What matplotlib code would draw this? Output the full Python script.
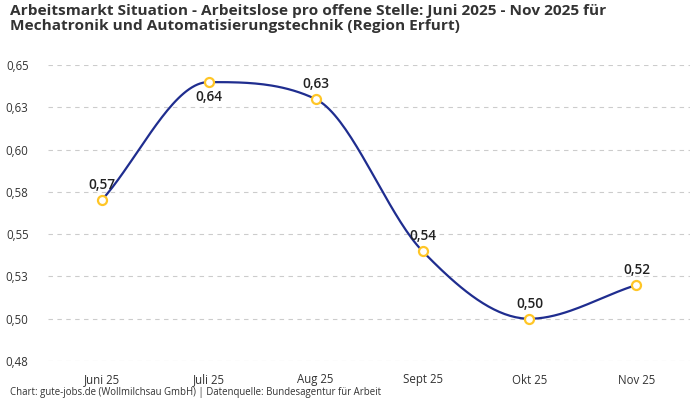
import numpy as np
import matplotlib
matplotlib.use("Agg")
import matplotlib.pyplot as plt
from matplotlib.ticker import FixedLocator, FuncFormatter

plt.rcParams['font.family'] = ['Open Sans', 'DejaVu Sans']

months = ["Juni 25", "Juli 25", "Aug 25", "Sept 25", "Okt 25", "Nov 25"]
values = [0.570, 0.640, 0.630, 0.540, 0.500, 0.520]
label_below = [False, True, False, False, False, False]
yticks = [0.475, 0.50, 0.525, 0.55, 0.575, 0.60, 0.625, 0.65]

title = ("Arbeitsmarkt Situation - Arbeitslose pro offene Stelle: Juni 2025 - Nov 2025 für\n"
         "Mechatronik und Automatisierungstechnik (Region Erfurt)")
source = "Chart: gute-jobs.de (Wollmilchsau GmbH) | Datenquelle: Bundesagentur für Arbeit"

LINE = "#1f2d8f"
DOT = "#ffc627"


def monotone_curve(x, y, steps=40):
    # Fritsch-Carlson monotone cubic, like chart.js "monotone" mode
    x = np.asarray(x, float)
    y = np.asarray(y, float)
    n = len(x)
    h = np.diff(x)
    d = np.diff(y) / h
    m = np.zeros(n)
    m[0], m[-1] = d[0], d[-1]
    for i in range(1, n - 1):
        if d[i - 1] * d[i] <= 0:
            m[i] = 0
        else:
            m[i] = (d[i - 1] + d[i]) / 2
    for i in range(n - 1):
        if d[i] == 0:
            m[i] = m[i + 1] = 0
            continue
        a, b = m[i] / d[i], m[i + 1] / d[i]
        s = a * a + b * b
        if s > 9:
            t = 3 / np.sqrt(s)
            m[i] = t * a * d[i]
            m[i + 1] = t * b * d[i]
    xs, ys = [], []
    for i in range(n - 1):
        t = np.linspace(0, 1, steps)
        h00 = 2 * t**3 - 3 * t**2 + 1
        h10 = t**3 - 2 * t**2 + t
        h01 = -2 * t**3 + 3 * t**2
        h11 = t**3 - t**2
        xs.append(x[i] + t * h[i])
        ys.append(h00 * y[i] + h10 * h[i] * m[i] + h01 * y[i + 1] + h11 * h[i] * m[i + 1])
    return np.concatenate(xs), np.concatenate(ys)


fig = plt.figure(figsize=(7, 4), dpi=100)
ax = fig.add_axes([0.0686, 0.0975, 0.9171, 0.7395])

xpos = np.arange(len(months))
cx, cy = monotone_curve(xpos, values)
ax.plot(cx, cy, color=LINE, lw=1.6, zorder=2, clip_on=False)
ax.plot(xpos, values, 'o', ms=6.5, mfc='white', mec=DOT, mew=1.6, zorder=3, clip_on=False)

for xi, v, below in zip(xpos, values, label_below):
    ax.annotate(f"{v:.2f}".replace('.', ','), (xi, v),
                xytext=(0, -15 if below else 15), textcoords='offset pixels',
                ha='center', va='center', fontsize=9.8, fontweight='semibold', color='#222222')

ax.set_xlim(-0.5, len(months) - 0.5)
ax.set_ylim(yticks[0], yticks[-1])
ax.set_xticks(xpos)
ax.set_xticklabels(months)
ax.yaxis.set_major_locator(FixedLocator(yticks))
ax.yaxis.set_major_formatter(FuncFormatter(lambda v, p: f"{v + 1e-9:.2f}".replace('.', ',')))
ax.tick_params(axis='both', length=0, labelsize=8.3, labelcolor='#333333')
ax.tick_params(axis='y', pad=14)
ax.tick_params(axis='x', pad=9)
ax.grid(axis='y', color='#cccccc', lw=0.8, ls=(0, (4, 4)))
ax.set_axisbelow(True)
for s in ax.spines.values():
    s.set_visible(False)

fig.text(0.0143, 0.99, title, ha='left', va='top', fontsize=11.1, fontweight='bold',
         color='#333333', linespacing=1.12)
fig.text(0.0143, 0.018, source, ha='left', va='center', fontsize=6.95, color='#333333')

fig.savefig("out.png", dpi=100)
